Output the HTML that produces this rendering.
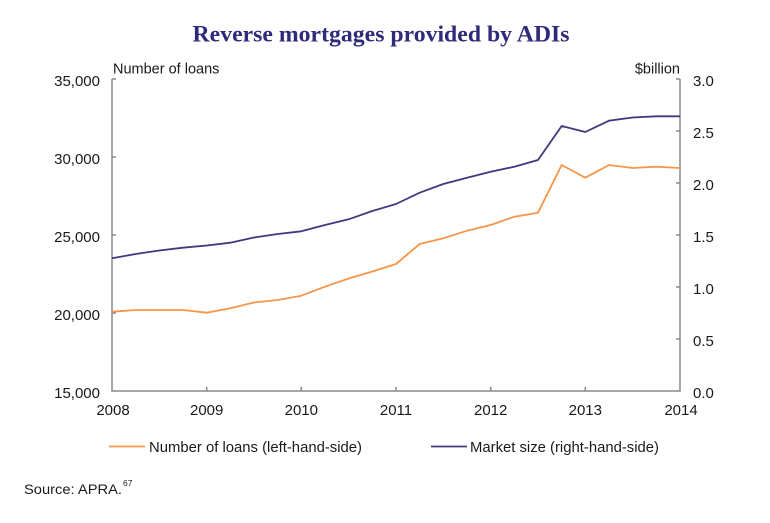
<!DOCTYPE html>
<html><head><meta charset="utf-8"><style>
html,body{margin:0;padding:0;background:#fff;}
svg{display:block;}
text{font-family:"Liberation Sans",Arial,sans-serif;fill:#1a1a1a;}
</style></head><body>
<svg width="770" height="523" viewBox="0 0 770 523" xmlns="http://www.w3.org/2000/svg">
<text x="381" y="41.5" text-anchor="middle" style="font-family:'Liberation Serif',serif;font-weight:bold;font-size:23px;fill:#2d2b7a" textLength="377" lengthAdjust="spacingAndGlyphs">Reverse mortgages provided by ADIs</text>
<text x="113" y="73.5" font-size="14.5">Number of loans</text>
<text x="680" y="73.5" font-size="14.5" text-anchor="end">$billion</text>
<g stroke="#8a8a8a" stroke-width="1.5" fill="none">
<polyline points="112,79 112,391 680,391 680,79"/>
<path d="M112,79h4M112,157h4M112,235h4M112,313h4M680,79h-4M680,131h-4M680,183h-4M680,235h-4M680,287h-4M680,339h-4M206.7,391v-4M301.3,391v-4M396,391v-4M490.7,391v-4M585.3,391v-4"/>
</g>
<g font-size="15" text-anchor="end">
<text x="100" y="86">35,000</text>
<text x="100" y="164">30,000</text>
<text x="100" y="242">25,000</text>
<text x="100" y="320">20,000</text>
<text x="100" y="398">15,000</text>
</g>
<g font-size="15">
<text x="693" y="86">3.0</text>
<text x="693" y="138">2.5</text>
<text x="693" y="190">2.0</text>
<text x="693" y="242">1.5</text>
<text x="693" y="294">1.0</text>
<text x="693" y="346">0.5</text>
<text x="693" y="398">0.0</text>
</g>
<g font-size="15" text-anchor="middle">
<text x="113" y="415">2008</text>
<text x="206.7" y="415">2009</text>
<text x="301.3" y="415">2010</text>
<text x="396" y="415">2011</text>
<text x="490.7" y="415">2012</text>
<text x="585.3" y="415">2013</text>
<text x="681" y="415">2014</text>
</g>
<polyline fill="none" stroke="#f7954a" stroke-width="1.8" stroke-linejoin="round" points="112,311.7 135.7,310 159.3,310 183,310 206.7,312.7 230.3,308.3 254,302.5 277.7,300 301.3,295.7 325,286.7 348.7,278.5 372.3,271.5 396,264 419.7,244 443.3,238.3 467,230.7 490.7,225 514.3,216.7 538,212.7 561.7,165 585.3,177.7 609,165 632.7,168 656.3,166.7 680,168"/>
<polyline fill="none" stroke="#3e3a7c" stroke-width="1.8" stroke-linejoin="round" points="112,258.3 135.7,254 159.3,250.5 183,247.7 206.7,245.5 230.3,242.7 254,237.5 277.7,234 301.3,231.3 325,225 348.7,219.3 372.3,211 396,204 419.7,192.7 443.3,184 467,177.7 490.7,171.7 514.3,166.7 538,160 561.7,126 585.3,132 609,120.7 632.7,117.5 656.3,116.3 680,116.3"/>
<line x1="109" y1="446.5" x2="145" y2="446.5" stroke="#f7954a" stroke-width="1.8"/>
<text x="149" y="452" font-size="15" textLength="213" lengthAdjust="spacingAndGlyphs">Number of loans (left-hand-side)</text>
<line x1="431" y1="446.5" x2="467" y2="446.5" stroke="#3e3a7c" stroke-width="1.8"/>
<text x="470" y="452" font-size="15" textLength="189" lengthAdjust="spacingAndGlyphs">Market size (right-hand-side)</text>
<text x="24" y="494" font-size="14" textLength="98" lengthAdjust="spacingAndGlyphs">Source: APRA.</text>
<text x="123" y="486" font-size="8.5">67</text>
</svg>
</body></html>
